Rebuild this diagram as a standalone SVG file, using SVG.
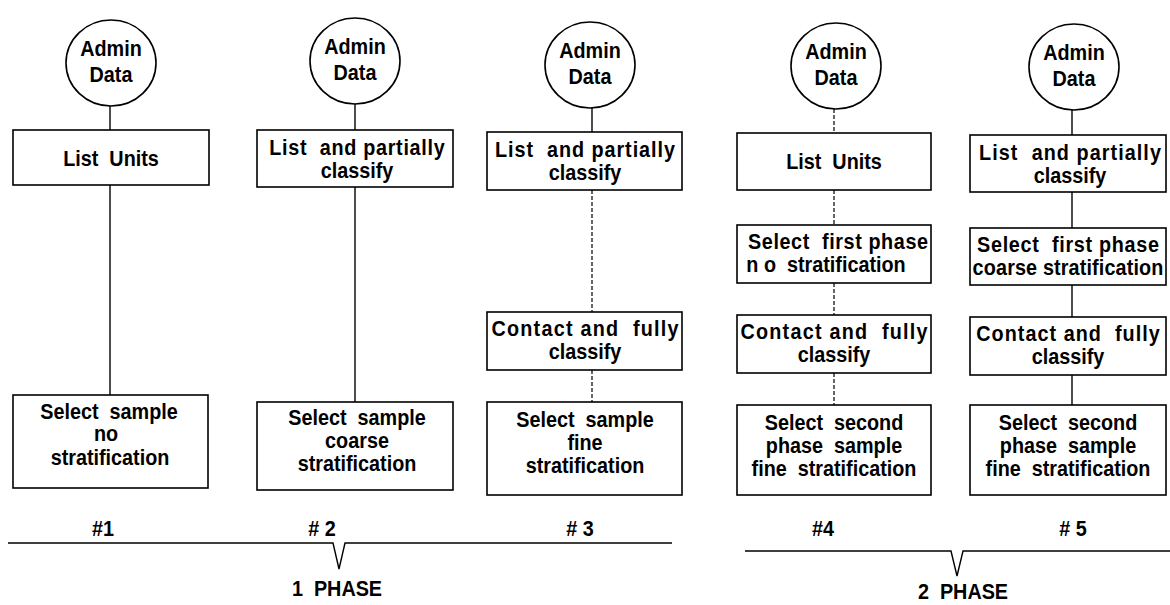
<svg xmlns="http://www.w3.org/2000/svg" width="1170" height="605" viewBox="0 0 1170 605">
<style>
.bg{fill:#fff}
.n{fill:#fff;stroke:#000;stroke-width:1.6}
.t{font-family:"Liberation Sans",Arial,sans-serif;font-weight:bold;font-size:22px;fill:#000;text-anchor:middle;white-space:pre}
.c{stroke:#000;stroke-width:1.4;fill:none}
.d{stroke:#000;stroke-width:1.2;fill:none;stroke-dasharray:4 2}
</style>
<rect class="bg" x="0" y="0" width="1170" height="605"/>
<g id="connectors">
<line class="c" x1="110" y1="106" x2="110" y2="130"/>
<line class="c" x1="110" y1="185" x2="110" y2="395"/>
<line class="c" x1="355" y1="104" x2="355" y2="130"/>
<line class="c" x1="355" y1="187" x2="355" y2="402"/>
<line class="c" x1="592" y1="108" x2="592" y2="132"/>
<line class="d" x1="592" y1="190" x2="592" y2="312"/>
<line class="d" x1="592" y1="370" x2="592" y2="402"/>
<line class="d" x1="834" y1="109" x2="834" y2="133"/>
<line class="d" x1="834" y1="190" x2="834" y2="225"/>
<line class="d" x1="834" y1="283" x2="834" y2="315"/>
<line class="d" x1="834" y1="373" x2="834" y2="405"/>
<line class="c" x1="1072" y1="110" x2="1072" y2="135"/>
<line class="c" x1="1072" y1="192" x2="1072" y2="228"/>
<line class="c" x1="1072" y1="285" x2="1072" y2="317"/>
<line class="c" x1="1072" y1="375" x2="1072" y2="405"/>
</g>

<g id="admin1"><ellipse class="n" cx="111" cy="63" rx="45" ry="43"/><text class="t" transform="matrix(0.9 0 0 1 111 56)">Admin</text><text class="t" transform="matrix(0.9 0 0 1 111 82)">Data</text></g>
<g id="admin2"><ellipse class="n" cx="355" cy="61" rx="45" ry="43"/><text class="t" transform="matrix(0.9 0 0 1 355 54)">Admin</text><text class="t" transform="matrix(0.9 0 0 1 355 80)">Data</text></g>
<g id="admin3"><ellipse class="n" cx="590" cy="65" rx="45" ry="43"/><text class="t" transform="matrix(0.9 0 0 1 590 58)">Admin</text><text class="t" transform="matrix(0.9 0 0 1 590 84)">Data</text></g>
<g id="admin4"><ellipse class="n" cx="836" cy="66" rx="45" ry="43"/><text class="t" transform="matrix(0.9 0 0 1 836 59)">Admin</text><text class="t" transform="matrix(0.9 0 0 1 836 85)">Data</text></g>
<g id="admin5"><ellipse class="n" cx="1074" cy="67" rx="45" ry="43"/><text class="t" transform="matrix(0.9 0 0 1 1074 60)">Admin</text><text class="t" transform="matrix(0.9 0 0 1 1074 86)">Data</text></g>

<g id="c1-list"><rect class="n" x="13" y="130" width="196" height="55"/><text class="t" transform="matrix(0.9 0 0 1 111 166)">List  Units</text></g>
<g id="c1-select"><rect class="n" x="13" y="395" width="195" height="93"/><text class="t" transform="matrix(0.9 0 0 1 109 419)">Select  sample</text><text class="t" transform="matrix(0.9 0 0 1 106 441)">no</text><text class="t" transform="matrix(0.9 0 0 1 110 465)">stratification</text></g>

<g id="c2-list"><rect class="n" x="257" y="130" width="196" height="57"/><text class="t" transform="matrix(0.9 0 0 1 357 155)" textLength="195" lengthAdjust="spacing">List  and partially</text><text class="t" transform="matrix(0.9 0 0 1 357 178)">classify</text></g>
<g id="c2-select"><rect class="n" x="257" y="402" width="196" height="88"/><text class="t" transform="matrix(0.9 0 0 1 357 425)">Select  sample</text><text class="t" transform="matrix(0.9 0 0 1 357 448)">coarse</text><text class="t" transform="matrix(0.9 0 0 1 357 471)">stratification</text></g>

<g id="c3-list"><rect class="n" x="487" y="132" width="195" height="58"/><text class="t" transform="matrix(0.9 0 0 1 585 157)" textLength="200" lengthAdjust="spacing">List  and partially</text><text class="t" transform="matrix(0.9 0 0 1 585 180)">classify</text></g>
<g id="c3-contact"><rect class="n" x="487" y="312" width="195" height="58"/><text class="t" transform="matrix(0.9 0 0 1 585 336)" textLength="208" lengthAdjust="spacing">Contact and  fully</text><text class="t" transform="matrix(0.9 0 0 1 585 359)">classify</text></g>
<g id="c3-select"><rect class="n" x="487" y="402" width="195" height="93"/><text class="t" transform="matrix(0.9 0 0 1 585 427)">Select  sample</text><text class="t" transform="matrix(0.9 0 0 1 585 450)">fine</text><text class="t" transform="matrix(0.9 0 0 1 585 473)">stratification</text></g>

<g id="c4-list"><rect class="n" x="737" y="133" width="194" height="57"/><text class="t" transform="matrix(0.9 0 0 1 834 169)">List  Units</text></g>
<g id="c4-first"><rect class="n" x="737" y="225" width="194" height="58"/><text class="t" transform="matrix(0.9 0 0 1 838 249)" textLength="200" lengthAdjust="spacing">Select  first phase</text><text class="t" transform="matrix(0.9 0 0 1 826 272)">n o  stratification</text></g>
<g id="c4-contact"><rect class="n" x="737" y="315" width="194" height="58"/><text class="t" transform="matrix(0.9 0 0 1 834 339)" textLength="208" lengthAdjust="spacing">Contact and  fully</text><text class="t" transform="matrix(0.9 0 0 1 834 362)">classify</text></g>
<g id="c4-select"><rect class="n" x="737" y="405" width="194" height="90"/><text class="t" transform="matrix(0.9 0 0 1 834 430)">Select  second</text><text class="t" transform="matrix(0.9 0 0 1 834 453)">phase  sample</text><text class="t" transform="matrix(0.9 0 0 1 834 476)">fine  stratification</text></g>

<g id="c5-list"><rect class="n" x="970" y="135" width="196" height="57"/><text class="t" transform="matrix(0.9 0 0 1 1070 160)" textLength="202" lengthAdjust="spacing">List  and partially</text><text class="t" transform="matrix(0.9 0 0 1 1070 183)">classify</text></g>
<g id="c5-first"><rect class="n" x="970" y="228" width="196" height="57"/><text class="t" transform="matrix(0.9 0 0 1 1068 252)" textLength="202" lengthAdjust="spacing">Select  first phase</text><text class="t" transform="matrix(0.9 0 0 1 1068 275)" textLength="212" lengthAdjust="spacing">coarse stratification</text></g>
<g id="c5-contact"><rect class="n" x="970" y="317" width="196" height="58"/><text class="t" transform="matrix(0.9 0 0 1 1068 341)" textLength="204" lengthAdjust="spacing">Contact and  fully</text><text class="t" transform="matrix(0.9 0 0 1 1068 364)">classify</text></g>
<g id="c5-select"><rect class="n" x="970" y="405" width="196" height="90"/><text class="t" transform="matrix(0.9 0 0 1 1068 430)">Select  second</text><text class="t" transform="matrix(0.9 0 0 1 1068 453)">phase  sample</text><text class="t" transform="matrix(0.9 0 0 1 1068 476)">fine  stratification</text></g>

<g id="labels">
<text class="t" transform="matrix(0.9 0 0 1 103 536)">#1</text>
<text class="t" transform="matrix(0.9 0 0 1 322 536)"># 2</text>
<text class="t" transform="matrix(0.9 0 0 1 580 536)"># 3</text>
<text class="t" transform="matrix(0.9 0 0 1 823 536)">#4</text>
<text class="t" transform="matrix(0.9 0 0 1 1073 536)"># 5</text>
<text class="t" transform="matrix(0.9 0 0 1 337 596)">1  PHASE</text>
<text class="t" transform="matrix(0.9 0 0 1 963 599)">2  PHASE</text>
</g>
<g id="phase-brackets">
<path class="c" d="M8 543 H333 L339 569 L345 543 H672"/>
<path class="c" d="M745 551 H951 L957 576 L963 551 H1170"/>
</g>
</svg>
